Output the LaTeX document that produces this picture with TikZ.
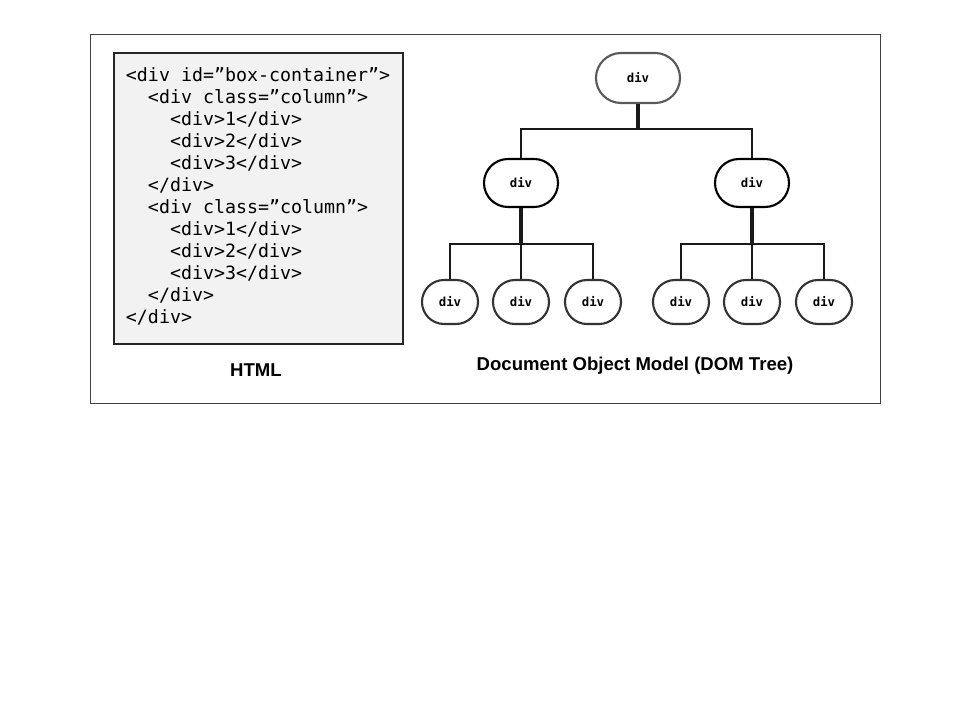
\documentclass[tikz,border=0pt]{standalone}
\usepackage{fontspec}
\setmainfont{Liberation Sans}
\setmonofont{DejaVu Sans Mono}
\usetikzlibrary{shapes.misc,calc}

\def\ind{\hphantom{xx}}

\begin{document}
\begin{tikzpicture}[x=0.025cm, y=-0.025cm, line width=1.4pt]
    \tikzstyle{frame}=[draw=black!75, line width=0.7pt]
    \tikzstyle{codebox}=[draw=black!85, fill=black!5, line width=1.5pt]
    \tikzstyle{codeline}=[anchor=base west, inner sep=0pt, font=\ttfamily\fontsize{13}{15.6}\selectfont]
    \tikzstyle{dom}=[rounded rectangle, draw=black!85, fill=white, line width=1.5pt, inner sep=0pt, font=\ttfamily\bfseries\fontsize{8.8}{10}\selectfont]
    \tikzstyle{root dom}=[dom, draw=black!65, minimum width=2.1cm, minimum height=1.25cm]
    \tikzstyle{mid dom}=[dom, draw=black, minimum width=1.85cm, minimum height=1.2cm]
    \tikzstyle{leaf dom}=[dom, draw=black!80, minimum width=1.4cm, minimum height=1.1cm]
    \tikzstyle{link}=[draw=black!90, line width=1.6pt]
    \tikzstyle{stem}=[link, line width=2.2pt]
    \tikzstyle{caption}=[font=\bfseries\fontsize{13.2}{15}\selectfont]

    \useasboundingbox (0,0) rectangle (960,720);
    \path[fill=white] (0,0) rectangle (960,720);

    % Outer frame and the code panel
    \draw[frame] (90,34) rectangle (880,403);
    \draw[codebox] (114,53) rectangle (403,344);

    % The HTML source, one line per node
    \foreach \line [count=\i] in {<div id=”box-container”>,
        \ind<div class=”column”>,
        \ind\ind<div>1</div>, \ind\ind<div>2</div>, \ind\ind<div>3</div>,
        \ind</div>,
        \ind<div class=”column”>,
        \ind\ind<div>1</div>, \ind\ind<div>2</div>, \ind\ind<div>3</div>,
        \ind</div>,
        </div>}
        \node[codeline] (line-\i) at (125, 60+\i*22) {\line};

    % The DOM tree
    \node[root dom] (root) at (638,78) {div};
    \node[mid dom] (C-1) at (521,183) {div};
    \node[mid dom] (C-2) at (752,183) {div};
    \foreach \name / \x in {1/450, 2/521, 3/593}
        \node[leaf dom] (C-1-\name) at (\x,302) {div};
    \foreach \name / \x in {1/681, 2/752, 3/824}
        \node[leaf dom] (C-2-\name) at (\x,302) {div};

    % Connect root to the two columns
    \coordinate (J-0) at (638,129);
    \draw[stem] (root.south) -- (J-0);
    \draw[link] (C-1.north) |- (J-0) -| (C-2.north);

    % Connect each column to its three children
    \foreach \col in {1,2} {
        \coordinate (J-\col) at ($(C-\col.south)+(0,36)$);
        \draw[stem] (C-\col.south) -- (J-\col);
        \draw[link] (C-\col-1.north) |- (J-\col) -| (C-\col-3.north);
        \draw[link] (J-\col) -- (C-\col-2.north);
    }

    % Captions
    \node[caption] (html) at (256,370) {HTML};
    \node[caption] (domlabel) at (635,366) {Document Object Model (DOM Tree)};
\end{tikzpicture}
\end{document}
